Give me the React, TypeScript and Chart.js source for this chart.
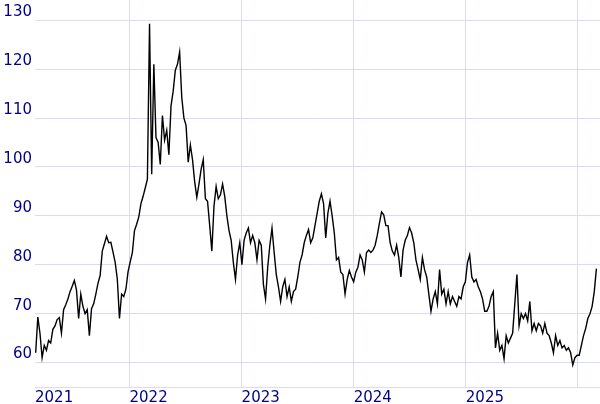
import React, { useEffect, useRef } from 'react';
import { Chart, registerables } from 'chart.js';

Chart.register(...registerables);

// time axis, in decimal years
const START_YEAR = 2021.163;
const WEEK_IN_YEARS = 7 / 365.25;
const X_MIN = 2021.157;
const X_MAX = 2026.197;
const firstYearLabel = '2021';
const yearTicks = [2022, 2023, 2024, 2025, 2026];
const yearLabels = ['2022', '2023', '2024', '2025', ''];

// price axis
const Y_MIN = 55;
const Y_MAX = 134.15;
const priceTicks = [60, 70, 80, 90, 100, 110, 120, 130];

// weekly closing values
const weeklyClose = [
  62.0, 69.3, 66.0, 61.0, 63.5, 62.5, 64.5, 64.0, 66.8, 67.5,
  68.8, 69.2, 66.0, 70.8, 71.8, 73.0, 74.5, 75.6, 76.8, 74.8,
  69.0, 74.0, 71.5, 70.0, 70.8, 65.5, 71.0, 72.0, 74.0, 76.2,
  77.8, 82.8, 84.3, 85.8, 84.5, 84.6, 82.6, 80.5, 77.1, 69.0,
  74.0, 73.5, 75.0, 78.6, 80.6, 82.5, 87.0, 88.3, 89.8, 92.5,
  94.0, 95.7, 97.5, 129.3, 98.5, 121.0, 106.0, 105.0, 100.5, 110.5,
  105.5, 107.5, 102.5, 112.5, 115.5, 119.8, 121.0, 123.5, 114.2, 110.0,
  108.5, 101.0, 104.5, 101.5, 97.0, 93.8, 96.5, 99.5, 101.5, 93.5,
  93.0, 88.0, 82.8, 92.0, 96.0, 93.5, 94.3, 96.5, 94.0, 90.0,
  87.0, 85.0, 80.5, 77.0, 82.0, 84.5, 80.0, 85.0, 86.5, 87.5,
  84.5, 86.0, 84.5, 81.0, 85.0, 84.0, 76.0, 73.0, 79.5, 84.0,
  87.5, 82.5, 78.0, 75.5, 72.5, 75.5, 77.0, 73.5, 75.5, 72.5,
  74.5, 75.0, 77.5, 80.5, 82.0, 84.5, 86.0, 87.2, 84.5, 85.5,
  88.0, 90.5, 93.0, 94.5, 92.5, 85.5, 90.5, 93.0, 90.0, 86.5,
  81.0, 81.5, 78.5, 78.0, 74.0, 77.0, 78.8, 77.5, 76.5, 78.5,
  79.5, 82.0, 81.0, 78.5, 82.5, 83.0, 82.5, 83.0, 84.0, 86.0,
  88.5, 90.8, 90.2, 88.0, 88.0, 84.5, 82.8, 82.0, 84.0, 81.5,
  77.5, 83.0, 85.0, 86.0, 87.6, 86.5, 84.5, 81.0, 79.0, 77.0,
  81.5, 79.0, 77.5, 74.0, 70.5, 73.0, 74.5, 72.0, 79.0, 74.0,
  75.0, 72.0, 74.5, 72.0, 73.5, 72.5, 71.5, 73.5, 73.0, 75.5,
  76.5, 80.5, 82.0, 77.5, 76.5, 77.0, 75.5, 74.5, 73.0, 70.5,
  70.5, 71.5, 73.5, 74.5, 63.0, 66.0, 62.5, 63.5, 60.8, 65.5,
  64.0, 65.0, 66.0, 72.0, 78.0, 67.5, 70.0, 69.0, 70.0, 68.5,
  72.5, 66.5, 68.0, 66.5, 68.0, 67.5, 66.0, 68.0, 66.0, 65.5,
  64.0, 62.0, 65.5, 63.5, 64.5, 63.0, 63.5, 62.5, 63.0, 62.0,
  59.5, 61.0, 61.5, 61.5, 63.5, 65.5, 67.0, 69.0, 70.0, 71.5,
  74.5, 79.2,
];

const GRID = '#dadafc';
const LABEL = '#00008b';
const FONT = { family: '"DejaVu Sans", Verdana, sans-serif', size: 15 };

export default function App() {
  const ref = useRef<HTMLCanvasElement | null>(null);

  useEffect(() => {
    if (!ref.current) return;
    const points = weeklyClose.map((v, i) => ({ x: START_YEAR + i * WEEK_IN_YEARS, y: v }));
    const chart = new Chart(ref.current, {
      type: 'line',
      data: {
        datasets: [
          {
            data: points,
            borderColor: '#000000',
            borderWidth: 1.4,
            pointRadius: 0,
            tension: 0,
            fill: false,
          },
        ],
      },
      options: {
        animation: false,
        responsive: false,
        layout: { padding: 0 },
        plugins: { legend: { display: false }, tooltip: { enabled: false } },
        scales: {
          x: {
            type: 'linear',
            min: X_MIN,
            max: X_MAX,
            afterBuildTicks: (s: any) => {
              s.ticks = [{ value: X_MIN }, ...yearTicks.map((v) => ({ value: v }))];
            },
            afterFit: (s: any) => {
              s.height = 17;
              s.paddingLeft = 0;
              s.paddingRight = 0;
            },
            grid: {
              color: (c: any) => (c.tick && Math.abs(c.tick.value - X_MIN) < 1e-6 ? 'rgba(0,0,0,0)' : GRID),
              lineWidth: 1,
              drawTicks: false,
            },
            border: { display: true, color: GRID },
            ticks: {
              autoSkip: false,
              maxRotation: 0,
              minRotation: 0,
              align: 'start',
              padding: 2,
              color: LABEL,
              font: FONT,
              callback: (value: any) => {
                if (Math.abs(value - X_MIN) < 1e-6) return firstYearLabel;
                const k = yearTicks.indexOf(Math.round(value));
                return k >= 0 ? yearLabels[k] : '';
              },
            },
          },
          y: {
            type: 'linear',
            min: Y_MIN,
            max: Y_MAX,
            afterBuildTicks: (s: any) => {
              s.ticks = priceTicks.map((v) => ({ value: v }));
            },
            afterFit: (s: any) => {
              s.width = 35;
              s.paddingTop = 0;
              s.paddingBottom = 0;
            },
            grid: { color: GRID, lineWidth: 1, drawTicks: false },
            border: { display: false },
            ticks: {
              padding: 3,
              labelOffset: -8,
              color: LABEL,
              font: FONT,
              callback: (value: any) => String(value),
            },
          },
        },
      },
    });
    return () => chart.destroy();
  }, []);

  return (
    <div style={{ position: 'absolute', left: 0, top: 0, width: 600, height: 404, background: '#ffffff' }}>
      <canvas ref={ref} width={600} height={404} style={{ display: 'block' }} />
    </div>
  );
}
